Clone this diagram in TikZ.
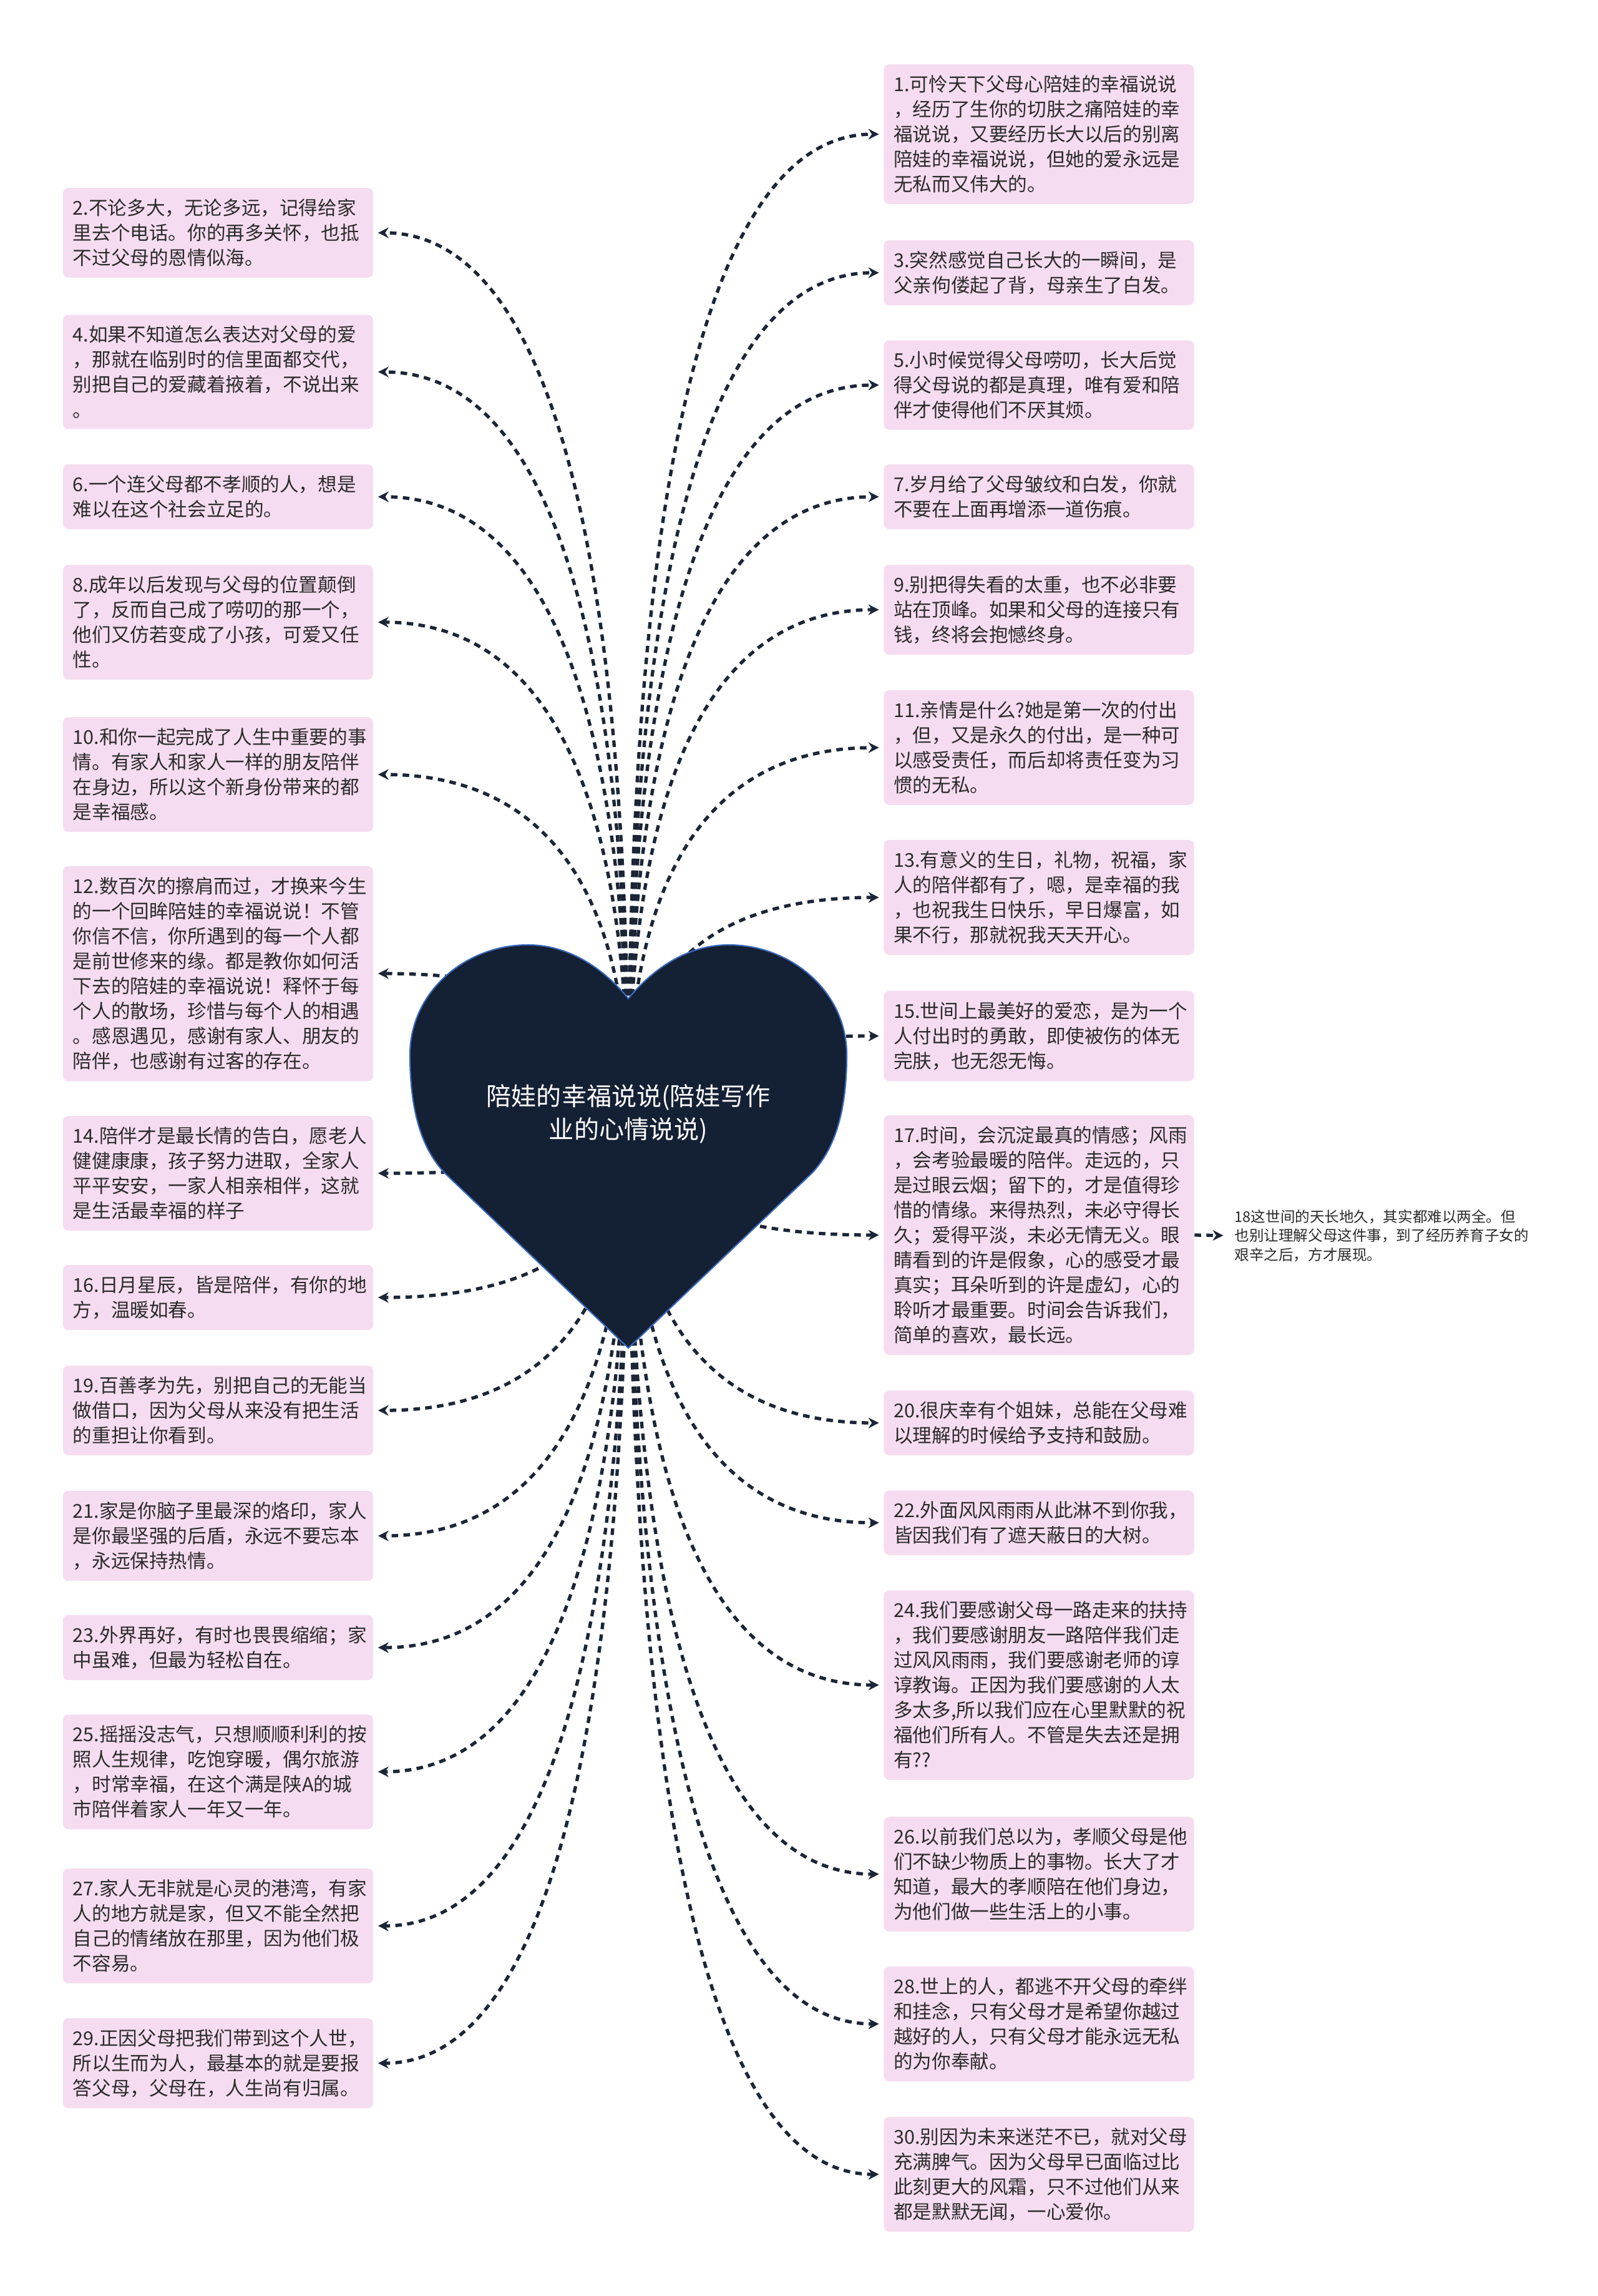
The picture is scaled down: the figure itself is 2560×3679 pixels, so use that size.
\documentclass[tikz,border=0pt]{standalone}
\usepackage{fontspec}
\setmainfont{Noto Sans CJK SC}
\usetikzlibrary{calc,arrows.meta}
\pgfdeclarelayer{paper}
\pgfdeclarelayer{back}
\pgfsetlayers{paper,back,main}
\definecolor{boxpink}{HTML}{F6DCF1}
\definecolor{heartnavy}{HTML}{142034}
\definecolor{heartrim}{HTML}{3C6BC0}
\definecolor{linknavy}{HTML}{1B2536}
\definecolor{txtgray}{HTML}{2B2B2B}

\begin{document}
\begin{tikzpicture}[x=0.01cm,y=-0.01cm,>={Stealth[length=4.8pt,width=4.8pt]},
	item/.style={fill=boxpink,rounded corners=2.5pt,text=txtgray,text width=4.65cm,align=left,
		inner xsep=0.16cm,inner ysep=5pt,font=\fontsize{8.7pt}{11.38pt}\selectfont},
	link/.style={draw=linknavy,line width=1.5pt,dash pattern=on 3pt off 2.4pt,->,shorten >=2pt}]
	
	\begin{pgfonlayer}{paper}
		\fill[white] (0,0) rectangle (2560,3679);
	\end{pgfonlayer}
	\useasboundingbox (0,0) rectangle (2560,3679);
	
	% left column
	\node[item] (b2) at (349.5,373) {2.不论多大，无论多远，记得给家\\里去个电话。你的再多关怀，也抵\\不过父母的恩情似海。};
	\node[item] (b4) at (349.5,596) {4.如果不知道怎么表达对父母的爱\\，那就在临别时的信里面都交代，\\别把自己的爱藏着掖着，不说出来\\。};
	\node[item] (b6) at (349.5,796) {6.一个连父母都不孝顺的人，想是\\难以在这个社会立足的。};
	\node[item] (b8) at (349.5,997) {8.成年以后发现与父母的位置颠倒\\了，反而自己成了唠叨的那一个，\\他们又仿若变成了小孩，可爱又任\\性。};
	\node[item] (b10) at (349.5,1241) {10.和你一起完成了人生中重要的事\\情。有家人和家人一样的朋友陪伴\\在身边，所以这个新身份带来的都\\是幸福感。};
	\node[item] (b12) at (349.5,1560) {12.数百次的擦肩而过，才换来今生\\的一个回眸陪娃的幸福说说！不管\\你信不信，你所遇到的每一个人都\\是前世修来的缘。都是教你如何活\\下去的陪娃的幸福说说！释怀于每\\个人的散场，珍惜与每个人的相遇\\。感恩遇见，感谢有家人、朋友的\\陪伴，也感谢有过客的存在。};
	\node[item] (b14) at (349.5,1880) {14.陪伴才是最长情的告白，愿老人\\健健康康，孩子努力进取，全家人\\平平安安，一家人相亲相伴，这就\\是生活最幸福的样子};
	\node[item] (b16) at (349.5,2079) {16.日月星辰，皆是陪伴，有你的地\\方，温暖如春。};
	\node[item] (b19) at (349.5,2260) {19.百善孝为先，别把自己的无能当\\做借口，因为父母从来没有把生活\\的重担让你看到。};
	\node[item] (b21) at (349.5,2461) {21.家是你脑子里最深的烙印，家人\\是你最坚强的后盾，永远不要忘本\\，永远保持热情。};
	\node[item] (b23) at (349.5,2640) {23.外界再好，有时也畏畏缩缩；家\\中虽难，但最为轻松自在。};
	\node[item] (b25) at (349.5,2839) {25.摇摇没志气，只想顺顺利利的按\\照人生规律，吃饱穿暖，偶尔旅游\\，时常幸福，在这个满是陕A的城\\市陪伴着家人一年又一年。};
	\node[item] (b27) at (349.5,3086) {27.家人无非就是心灵的港湾，有家\\人的地方就是家，但又不能全然把\\自己的情绪放在那里，因为他们极\\不容易。};
	\node[item] (b29) at (349.5,3306) {29.正因父母把我们带到这个人世，\\所以生而为人，最基本的就是要报\\答父母，父母在，人生尚有归属。};
	
	% right column
	\node[item] (b1) at (1665,215) {1.可怜天下父母心陪娃的幸福说说\\，经历了生你的切肤之痛陪娃的幸\\福说说，又要经历长大以后的别离\\陪娃的幸福说说，但她的爱永远是\\无私而又伟大的。};
	\node[item] (b3) at (1665,437) {3.突然感觉自己长大的一瞬间，是\\父亲佝偻起了背，母亲生了白发。};
	\node[item] (b5) at (1665,617) {5.小时候觉得父母唠叨，长大后觉\\得父母说的都是真理，唯有爱和陪\\伴才使得他们不厌其烦。};
	\node[item] (b7) at (1665,796) {7.岁月给了父母皱纹和白发，你就\\不要在上面再增添一道伤痕。};
	\node[item] (b9) at (1665,977) {9.别把得失看的太重，也不必非要\\站在顶峰。如果和父母的连接只有\\钱，终将会抱憾终身。};
	\node[item] (b11) at (1665,1198) {11.亲情是什么?她是第一次的付出\\，但，又是永久的付出，是一种可\\以感受责任，而后却将责任变为习\\惯的无私。};
	\node[item] (b13) at (1665,1438) {13.有意义的生日，礼物，祝福，家\\人的陪伴都有了，嗯，是幸福的我\\，也祝我生日快乐，早日爆富，如\\果不行，那就祝我天天开心。};
	\node[item] (b15) at (1665,1660) {15.世间上最美好的爱恋，是为一个\\人付出时的勇敢，即使被伤的体无\\完肤，也无怨无悔。};
	\node[item] (b17) at (1665,1979) {17.时间，会沉淀最真的情感；风雨\\，会考验最暖的陪伴。走远的，只\\是过眼云烟；留下的，才是值得珍\\惜的情缘。来得热烈，未必守得长\\久；爱得平淡，未必无情无义。眼\\睛看到的许是假象，心的感受才最\\真实；耳朵听到的许是虚幻，心的\\聆听才最重要。时间会告诉我们，\\简单的喜欢，最长远。};
	\node[item] (b20) at (1665,2280) {20.很庆幸有个姐妹，总能在父母难\\以理解的时候给予支持和鼓励。};
	\node[item] (b22) at (1665,2440) {22.外面风风雨雨从此淋不到你我，\\皆因我们有了遮天蔽日的大树。};
	\node[item] (b24) at (1665,2700) {24.我们要感谢父母一路走来的扶持\\，我们要感谢朋友一路陪伴我们走\\过风风雨雨，我们要感谢老师的谆\\谆教诲。正因为我们要感谢的人太\\多太多,所以我们应在心里默默的祝\\福他们所有人。不管是失去还是拥\\有??};
	\node[item] (b26) at (1665,3003) {26.以前我们总以为，孝顺父母是他\\们不缺少物质上的事物。长大了才\\知道，最大的孝顺陪在他们身边，\\为他们做一些生活上的小事。};
	\node[item] (b28) at (1665,3243) {28.世上的人，都逃不开父母的牵绊\\和挂念，只有父母才是希望你越过\\越好的人，只有父母才能永远无私\\的为你奉献。};
	\node[item] (b30) at (1665,3484) {30.别因为未来迷茫不已，就对父母\\充满脾气。因为父母早已面临过比\\此刻更大的风霜，只不过他们从来\\都是默默无闻，一心爱你。};
	
	\node[anchor=west,inner sep=0pt,text=txtgray,align=left,font=\fontsize{6.7pt}{8.7pt}\selectfont] (t18) at (1978,1980) {18这世间的天长地久，其实都难以两全。但\\也别让理解父母这件事，到了经历养育子女的\\艰辛之后，方才展现。};
	
	% heart
	\path[fill=heartnavy,draw=heartrim,line width=0.6pt] (1007,1600)
		.. controls (970,1555) and (915,1514) .. (846,1514)
		.. controls (745,1514) and (657,1590) .. (657,1690)
		.. controls (657,1790) and (680,1845) .. (713,1880) -- (1007,2160) -- (1301,1880)
		.. controls (1334,1845) and (1357,1790) .. (1357,1690)
		.. controls (1357,1590) and (1269,1514) .. (1168,1514)
		.. controls (1099,1514) and (1044,1555) .. cycle;
	\node[text=white,align=center,font=\fontsize{11.4pt}{15pt}\selectfont] (root) at (1007,1785) {陪娃的幸福说说(陪娃写作\\业的心情说说)};
	
	\begin{pgfonlayer}{back}
		\foreach \n in {2,4,6,8,10,12,14,16,19,21,23,25,27,29} {
			\draw[link] (root.center) .. controls ($(root.center)!.667!(root.center |- b\n.east)$) and ($(b\n.east)!.667!(root.center |- b\n.east)$) .. (b\n.east);
		}
		\foreach \n in {1,3,5,7,9,11,13,15,17,20,22,24,26,28,30} {
			\draw[link] (root.center) .. controls ($(root.center)!.667!(root.center |- b\n.west)$) and ($(b\n.west)!.667!(root.center |- b\n.west)$) .. (b\n.west);
		}
	\end{pgfonlayer}
	\draw[link,shorten >=5pt] (b17.east) -- (t18.west);
	
\end{tikzpicture}
\end{document}
